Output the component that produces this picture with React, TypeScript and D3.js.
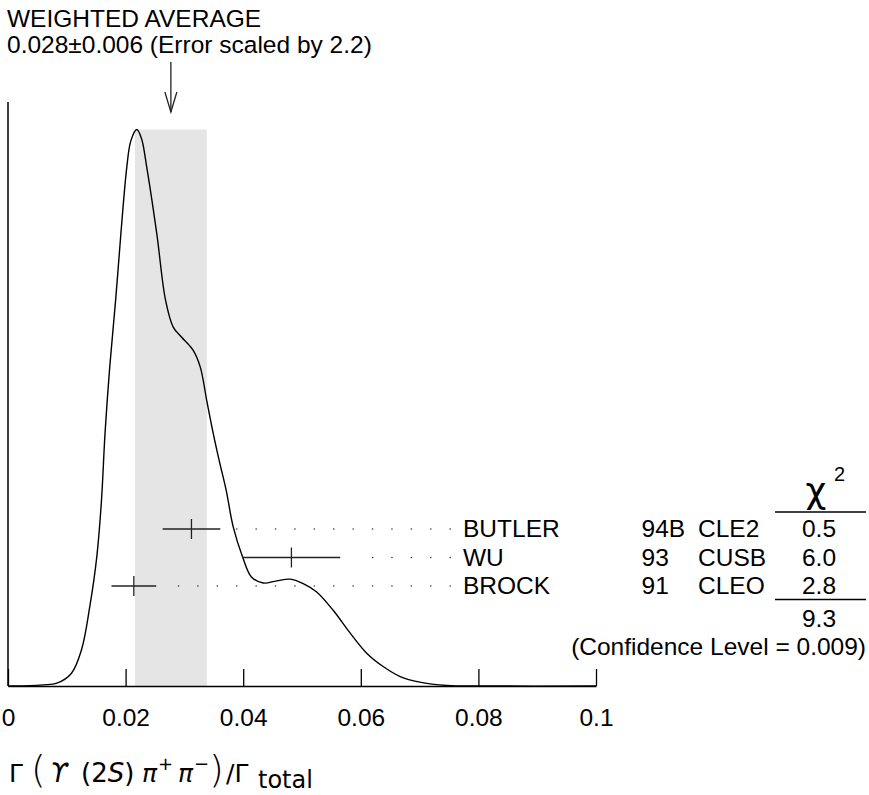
import { useEffect, useRef } from 'react';
import * as d3 from 'd3';

// Ideogram curve (x in ratio units, y relative to peak)
const curveX = [
  0, 0.0037, 0.006, 0.0083, 0.0108, 0.0125, 0.0139, 0.0151, 0.0159, 0.0165, 0.0173, 0.0183,
  0.0192, 0.0202, 0.0209, 0.0219, 0.0227, 0.0236, 0.0253, 0.0268, 0.0281, 0.0295, 0.0315,
  0.0327, 0.0338, 0.0349, 0.0359, 0.0371, 0.0383, 0.0399, 0.0414, 0.0434, 0.0457, 0.048,
  0.0502, 0.0525, 0.0553, 0.0582, 0.061, 0.0638, 0.0667, 0.07, 0.0747, 0.08, 0.1,
];
const curveY = [
  0, 0.0004, 0.002, 0.005, 0.023, 0.065, 0.142, 0.232, 0.334, 0.454, 0.573, 0.693, 0.813,
  0.932, 0.98, 1.0, 0.984, 0.932, 0.813, 0.693, 0.645, 0.627, 0.603, 0.573, 0.513, 0.454,
  0.406, 0.352, 0.286, 0.232, 0.196, 0.185, 0.189, 0.192, 0.184, 0.169, 0.136, 0.095, 0.059,
  0.035, 0.017, 0.007, 0.001, 0, 0,
];

// Measurements
const authors = ['BUTLER', 'WU', 'BROCK'];
const years = ['94B', '93', '91'];
const experiments = ['CLE2', 'CUSB', 'CLEO'];
const values = [0.0312, 0.0482, 0.0214];
const errors = [0.0049, 0.0083, 0.0038];
const chi2 = ['0.5', '6.0', '2.8'];
const chi2Total = '9.3';
const confidence = '(Confidence Level = 0.009)';

// Weighted average
const average = 0.0277;
const averageError = 0.0061;
const titleLines = ['WEIGHTED AVERAGE', '0.028\u00b10.006 (Error scaled by 2.2)'];

const tickValues = [0, 0.02, 0.04, 0.06, 0.08, 0.1];
const tickLabels = ['0', '0.02', '0.04', '0.06', '0.08', '0.1'];

const FONT = "'Liberation Sans', Arial, Helvetica, sans-serif";
const MATH = "'DejaVu Sans', sans-serif";

export default function App() {
  const svgRef = useRef<SVGSVGElement>(null);

  useEffect(() => {
    const svg = d3.select(svgRef.current);
    svg.selectAll('*').remove();

    const axisY = 686;
    const plotTop = 102;

    const x = d3.scaleLinear().domain([0, 0.1]).range([8, 596]);
    const y = d3.scaleLinear().domain([0, 1]).range([axisY, 129.5]);
    const row = d3.scaleLinear().domain([0, 2]).range([529, 586]);

    const g = svg.append('g').style('font-family', FONT).style('font-size', '24.5px');

    // shaded band for the weighted average
    g.append('rect')
      .attr('x', x(average - averageError))
      .attr('y', y(1))
      .attr('width', x(average + averageError) - x(average - averageError))
      .attr('height', axisY - y(1))
      .attr('fill', '#e5e5e5');

    // left axis line
    g.append('line')
      .attr('x1', x(0)).attr('x2', x(0))
      .attr('y1', plotTop).attr('y2', axisY)
      .attr('stroke', '#000').attr('stroke-width', 1.5);

    // bottom axis, ticks point up
    const axis = g.append('g')
      .attr('transform', `translate(0,${axisY})`)
      .call(
        d3.axisBottom(x)
          .tickValues(tickValues)
          .tickSizeInner(-17)
          .tickSizeOuter(0)
          .tickPadding(23)
          .tickFormat((_d, i) => tickLabels[i])
      );
    axis.select('.domain').attr('stroke', '#000').attr('stroke-width', 1.5);
    axis.selectAll('.tick line').attr('stroke', '#000').attr('stroke-width', 1.3);
    axis.selectAll('.tick text')
      .attr('fill', '#000')
      .style('font-family', FONT)
      .style('font-size', '24.5px');

    // ideogram
    const pts: [number, number][] = curveX.map((d, i) => [d, curveY[i]]);
    const line = d3.line<[number, number]>()
      .x((d) => x(d[0]))
      .y((d) => y(d[1]))
      .curve(d3.curveCatmullRom.alpha(0.5));
    g.append('path')
      .attr('d', line(pts))
      .attr('fill', 'none')
      .attr('stroke', '#000')
      .attr('stroke-width', 1.4);

    // arrow at the weighted average
    const ax = x(average);
    g.append('line')
      .attr('x1', ax).attr('x2', ax).attr('y1', 62).attr('y2', 112)
      .attr('stroke', '#222').attr('stroke-width', 1.3);
    g.append('path')
      .attr('d', `M${ax - 6},92L${ax},112L${ax + 6},92`)
      .attr('fill', 'none').attr('stroke', '#222').attr('stroke-width', 1.3);

    // title
    titleLines.forEach((t, i) => {
      g.append('text').attr('x', 7).attr('y', 27 + i * 26).text(t);
    });

    // measurements with dotted leaders
    const dotGrid = d3.range(0.029, 0.0756, 0.0033);
    authors.forEach((name, i) => {
      const ry = row(i);
      const lo = x(values[i] - errors[i]);
      const hi = x(values[i] + errors[i]);
      g.append('line')
        .attr('x1', lo).attr('x2', hi).attr('y1', ry).attr('y2', ry)
        .attr('stroke', '#222').attr('stroke-width', 1.3);
      g.append('line')
        .attr('x1', x(values[i])).attr('x2', x(values[i]))
        .attr('y1', ry - 10).attr('y2', ry + 10)
        .attr('stroke', '#222').attr('stroke-width', 1.3);
      g.selectAll(null)
        .data(dotGrid.filter((d) => x(d) > hi + 14))
        .enter()
        .append('circle')
        .attr('cx', (d) => x(d))
        .attr('cy', ry)
        .attr('r', 0.8)
        .attr('fill', '#333');

      g.append('text').attr('x', 463).attr('y', ry + 8).text(name);
      g.append('text').attr('x', 641.5).attr('y', ry + 8).text(years[i]);
      g.append('text').attr('x', 698).attr('y', ry + 8).text(experiments[i]);
      g.append('text').attr('x', 819).attr('y', ry + 8)
        .attr('text-anchor', 'middle').text(chi2[i]);
    });

    // chi-square header and totals
    g.append('text')
      .attr('x', 816).attr('y', 503)
      .attr('text-anchor', 'middle')
      .style('font-family', MATH)
      .style('font-size', '36px')
      .text('\u03c7');
    g.append('text')
      .attr('x', 834).attr('y', 481)
      .style('font-size', '20px')
      .text('2');
    [512, 599.5].forEach((ly) => {
      g.append('line')
        .attr('x1', 775).attr('x2', 866).attr('y1', ly).attr('y2', ly)
        .attr('stroke', '#000').attr('stroke-width', 1.3);
    });
    g.append('text').attr('x', 819).attr('y', 626.5)
      .attr('text-anchor', 'middle').text(chi2Total);
    g.append('text').attr('x', 866).attr('y', 655)
      .attr('text-anchor', 'end').text(confidence);

    // x-axis title: Γ( ϒ(2S) π+ π− ) / Γtotal
    const lab = g.append('text')
      .attr('y', 782)
      .style('font-family', MATH)
      .style('font-size', '25px');
    const part = (txt: string, size = 25) =>
      lab.append('tspan').style('font-size', `${size}px`).text(txt);
    part('\u0393').attr('x', 9);
    part('(', 38).attr('x', 31).style('font-weight', '300');
    part('\u03d2', 26).attr('x', 50).style('font-style', 'italic');
    part('(2', 26).attr('x', 81);
    part('S', 26).style('font-style', 'italic');
    part(')', 26);
    part('\u03c0').attr('x', 142).style('font-style', 'italic');
    part('+', 18).attr('x', 158).attr('dy', -12);
    part('\u03c0').attr('x', 178).attr('dy', 12).style('font-style', 'italic');
    part('\u2212', 18).attr('x', 194).attr('dy', -12);
    part(')', 38).attr('x', 209).attr('dy', 12).style('font-weight', '300');
    part('/\u0393').attr('x', 226);
    part('total', 24).attr('x', 258).attr('dy', 6);
  }, []);

  return (
    <div style={{ position: 'absolute', left: 0, top: 0 }}>
      <svg ref={svgRef} width={869} height={795} style={{ display: 'block', background: '#fff' }} />
    </div>
  );
}
